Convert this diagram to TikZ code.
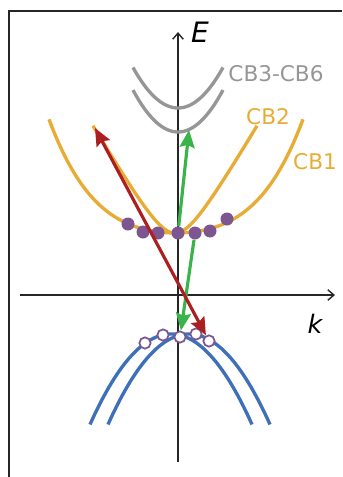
\documentclass[tikz,border=0pt]{standalone}
\usepackage{fontspec}
\setmainfont{DejaVu Sans}
\usetikzlibrary{arrows.meta}
\definecolor{cbcol}{RGB}{232,172,52}
\definecolor{highcol}{RGB}{150,150,150}
\definecolor{vbcol}{RGB}{62,112,185}
\definecolor{elcol}{RGB}{125,85,145}
\definecolor{redcol}{RGB}{172,30,32}
\definecolor{greencol}{RGB}{58,180,72}

\begin{document}
\begin{tikzpicture}[x=0.02cm, y=-0.02cm,
  band/.style={line width=1.9pt},
  electron/.style={circle, fill=elcol, inner sep=0pt, minimum size=7.4pt},
  hole/.style={circle, draw=elcol, fill=white, line width=1pt, inner sep=0pt, minimum size=6.4pt},
  trans/.style={line width=1.8pt, -{Stealth[length=10pt, width=8.5pt, inset=1.5pt]}},
  axis/.style={line width=0.8pt, black!85, -{Straight Barb[length=3.5pt, width=6pt]}},
  lab/.style={inner sep=0pt, font=\fontsize{12.3}{14}\selectfont}]
  \useasboundingbox (0,0) rectangle (342,477);
  % frame
  \draw[line width=1.25pt, black!85] (8.8,477) -- (8.8,10.8) -- (342,10.8);
  % axes
  \coordinate (e0) at (178,462);
  \coordinate (e1) at (178,32);
  \coordinate (k0) at (20,295);
  \coordinate (k1) at (335,295);
  \draw[axis] (e0) -- (e1);
  \draw[axis] (k0) -- (k1);
  \node[inner sep=0pt, font=\fontsize{16}{18}\selectfont\itshape] (Elab) at (200,32.5) {E};
  \node[inner sep=0pt, font=\fontsize{14.5}{17}\selectfont\itshape] (klab) at (315,324) {k};
  % conduction bands
  \draw[band, highcol] plot[domain=-45:45, samples=40] ({178+\x},{108-0.02*\x*\x});
  \draw[band, highcol] plot[domain=-45:45, samples=40] ({178+\x},{132-0.0207*\x*\x});
  \draw[band, cbcol] plot[domain=-127:127, samples=80]
    ({176+\x},{233-35*(\x/100)*(\x/100)-22*(\x/100)*(\x/100)*(\x/100)*(\x/100)});
  \draw[band, cbcol] plot[domain=-82:82, samples=80]
    ({175+\x},{233-37.5*(sqrt(1+(\x/22)*(\x/22))-1)});
  \node[lab, highcol] (cb36) at (276,73.5) {CB3-CB6};
  \node[lab, cbcol] (cb2) at (268,117) {CB2};
  \node[lab, cbcol] (cb1) at (315,162) {CB1};
  % valence bands
  \draw[band, vbcol] plot[domain=-81:81, samples=60] ({171+\x},{334+0.0138*\x*\x});
  \draw[band, vbcol] plot[domain=-81:81, samples=60] ({189+\x},{334+0.0138*\x*\x});
  % electrons and holes
  \foreach \n/\x/\y in {1/128/224, 2/143/232, 3/158/233, 4/178/233, 5/195/233, 6/210/231, 7/227/219}{
    \node[electron] (e\n) at (\x,\y) {};
  }
  \foreach \n/\x/\y in {1/145/343, 2/163/335, 3/180/337, 4/196/334, 5/209/341}{
    \node[hole] (h\n) at (\x,\y) {};
  }
  % transitions
  \coordinate (gtop) at (189,130);
  \coordinate (rtop) at (95,128);
  \draw[trans, greencol] (e4) -- (gtop);
  \draw[trans, greencol] (e5) -- (h3);
  \draw[trans, redcol, {Stealth[length=10pt, width=8.5pt, inset=1.5pt]}-{Stealth[length=10pt, width=8.5pt, inset=1.5pt]}] (rtop) -- (h5);
\end{tikzpicture}
\end{document}
